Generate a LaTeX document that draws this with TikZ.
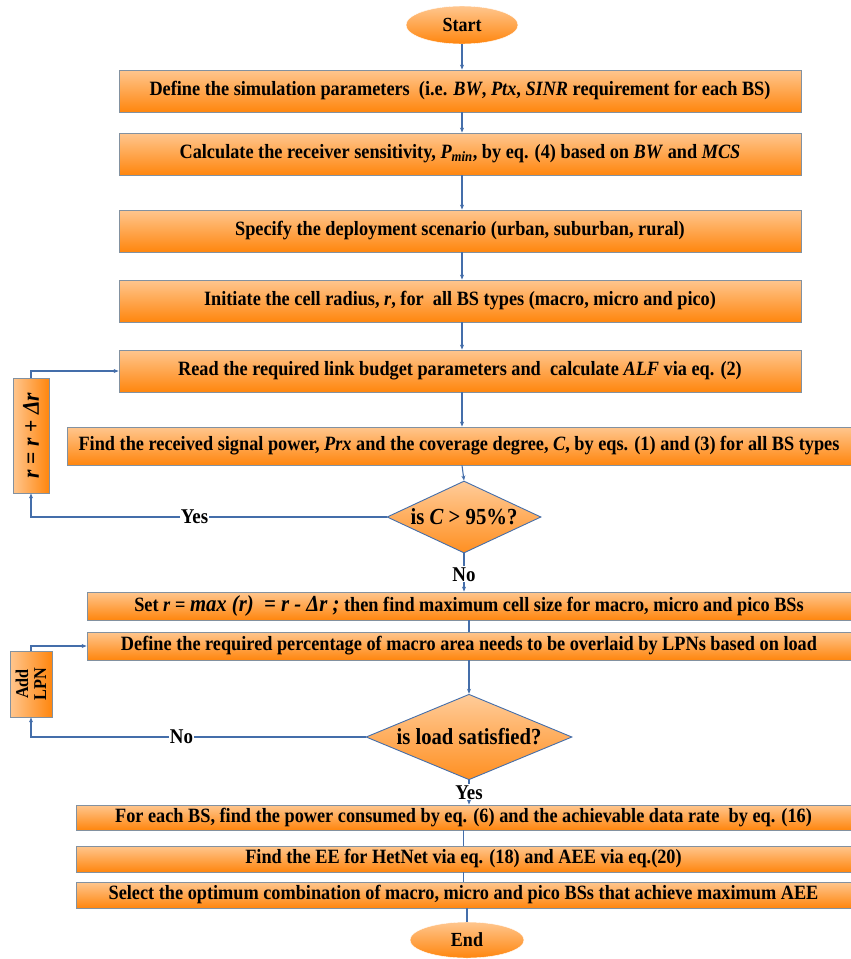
\documentclass[tikz,border=0pt]{standalone}
\usepackage{fontspec}
\setmainfont{Liberation Serif}[FakeStretch=0.9]
\usetikzlibrary{shapes.geometric,arrows.meta,calc}
\definecolor{lineblue}{RGB}{68,110,170}
\definecolor{boxedge}{RGB}{130,145,160}
\definecolor{orlight}{RGB}{255,198,142}
\definecolor{ordark}{RGB}{255,134,14}
\tikzset{
  flow/.style={draw=lineblue, line width=1.1pt},
  arr/.style={flow, -{Stealth[length=5pt,width=4pt]}},
  procbox/.style={rectangle, draw=boxedge, line width=0.8pt, top color=orlight, bottom color=ordark, minimum height=#1, inner sep=0pt, font=\fontsize{20.3}{22}\selectfont\bfseries},
  procbox/.default=42pt,
  sidebox/.style={rectangle, draw=boxedge, line width=0.8pt, left color=orlight, right color=ordark, inner sep=0pt},
  decision/.style={diamond, aspect=2.1, draw=lineblue, line width=0.9pt, top color=orlight!90!white, bottom color=ordark!85!orlight, inner sep=0pt, font=\fontsize{23}{25}\selectfont\bfseries},
  terminal/.style={ellipse, draw=white, top color=orlight, bottom color=ordark, inner sep=0pt, minimum width=112pt, minimum height=38pt, font=\fontsize{20}{22}\selectfont\bfseries},
  lbl/.style={fill=white, inner sep=1pt, font=\fontsize{21}{23}\selectfont\bfseries}
}
\begin{document}
\begin{tikzpicture}[x=1pt,y=-1pt]
\useasboundingbox (0,0) rectangle (851,959);
\node[terminal] (start) at (462,25) {Start};
\node[procbox, minimum width=682pt] (b1) at (460,91) {Define the simulation parameters \ (i.e. \textit{BW}, \textit{Ptx}, \textit{SINR} requirement for each BS)};
\node[procbox, minimum width=682pt] (b2) at (460,154) {Calculate the receiver sensitivity, \textit{P\textsubscript{min}}, by eq. (4) based on \textit{BW} and \textit{MCS}};
\node[procbox, minimum width=682pt] (b3) at (460,231) {Specify the deployment scenario (urban, suburban, rural)};
\node[procbox, minimum width=682pt] (b4) at (460,301) {Initiate the cell radius, \textit{r}, for \ all BS types (macro, micro and pico)};
\node[procbox, minimum width=682pt] (b5) at (460,371) {Read the required link budget parameters and \ calculate \textit{ALF} via eq. (2)};
\node[procbox=38pt, minimum width=784pt] (b6) at (459,446) {Find the received signal power, \textit{Prx} and the coverage degree, \textit{C}, by eqs. (1) and (3) for all BS types};
\node[decision, minimum width=154pt, minimum height=72pt] (d1) at (464,517) {is \textit{C} {>} 95\%?};
\node[procbox=28pt, minimum width=764pt] (b7) at (469,606) {Set \textit{r} = {\fontsize{23}{23}\selectfont\textit{max (r) \ = r - Δr ;}} then find maximum cell size for macro, micro and pico BSs};
\node[procbox=28pt, minimum width=764pt] (b8) at (469,646) {Define the required percentage of macro area needs to be overlaid by LPNs based on load};
\node[decision, minimum width=206pt, minimum height=74pt] (d2) at (469,737) {is load satisfied?};
\node[procbox=25pt, minimum width=775pt] (b9) at (463.5,817.5) {For each BS, find the power consumed by eq. (6) and the achievable data rate \ by eq. (16)};
\node[procbox=26pt, minimum width=775pt] (b10) at (463.5,859) {Find the EE for HetNet via eq. (18) and AEE via eq.(20)};
\node[procbox=26pt, minimum width=775pt] (b11) at (463.5,895) {Select the optimum combination of macro, micro and pico BSs that achieve maximum AEE};
\node[terminal, minimum width=114pt, minimum height=36pt] (end) at (467,940) {End};
\node[sidebox, minimum width=115pt, minimum height=36pt, rotate=90, font=\fontsize{24}{26}\selectfont\bfseries] (lb1) at (31,435.5) {\textit{r} = \textit{r} + \textit{Δr}};
\node[sidebox, minimum width=66pt, minimum height=42pt, rotate=90, align=center, font=\fontsize{18}{18}\selectfont\bfseries] (lb2) at (31,684) {Add\\LPN};
% main flow
\draw[arr] (start.south) -- (start.south |- b1.north);
\draw[arr] (b1.south -| start.south) -- (start.south |- b2.north);
\draw[arr] (b2.south -| start.south) -- (start.south |- b3.north);
\draw[arr] (b3.south -| start.south) -- (start.south |- b4.north);
\draw[arr] (b4.south -| start.south) -- (start.south |- b5.north);
\draw[arr] (b5.south -| start.south) -- (start.south |- b6.north);
\draw[arr] (b6.south -| start.south) -- (d1.north);
\draw[arr] (d1.south) -- node[lbl, pos=0.55] (no1) {No} (d1.south |- b7.north);
\draw[flow] (b7.south -| b8.north) -- (b8.north);
\draw[arr] (b8.south -| d2.north) -- (d2.north);
\draw[arr] (d2.south) -- node[lbl, pos=0.5] (yes2) {Yes} (d2.south |- b9.north);
\draw[flow] (b9.south -| b10.north) -- (b10.north);
\draw[flow] (b10.south -| b11.north) -- (b11.north);
\draw[flow] (b11.south -| end.north) -- (end.north);
% loop 1
\draw[arr] (d1.west) -- node[lbl, pos=0.54] (yes1) {Yes} (d1.west -| lb1.west) -- (lb1.west);
\draw[arr] (lb1.east) -- (lb1.east |- b5.west) -- (b5.west);
% loop 2
\draw[arr] (d2.west) -- node[lbl, pos=0.55] (no2) {No} (d2.west -| lb2.west) -- (lb2.west);
\draw[arr] (lb2.east) -- (lb2.east |- b8.west) -- (b8.west);
\end{tikzpicture}
\end{document}
